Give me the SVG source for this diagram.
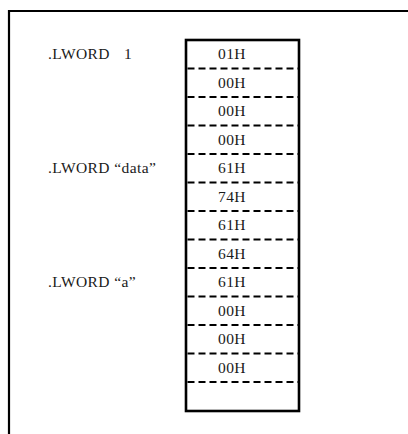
<svg xmlns="http://www.w3.org/2000/svg" width="408" height="434" viewBox="0 0 408 434">
  <style>
    .frame { fill: none; stroke: #000; stroke-width: 2.2; }
    .box { fill: #fff; stroke: #000; stroke-width: 2.6; }
    .sep { stroke: #000; stroke-width: 2.2; stroke-dasharray: 7 4; }
    text { font-family: "Liberation Serif", "DejaVu Serif", serif; font-size: 15.5px; letter-spacing: 0.4px; fill: #1a1a1a; }
    .val { text-anchor: middle; }
  </style>

  <!-- outer frame (continues past the right and bottom edges) -->
  <path class="frame" d="M9 434 V11 H408"/>

  <!-- memory column -->
  <g id="memory">
    <rect class="box" x="186" y="40" width="113" height="371"/>
    <g id="separators">
      <line class="sep" x1="187.5" y1="68.5" x2="298" y2="68.5"/>
      <line class="sep" x1="187.5" y1="97" x2="298" y2="97"/>
      <line class="sep" x1="187.5" y1="125.5" x2="298" y2="125.5"/>
      <line class="sep" x1="187.5" y1="154" x2="298" y2="154"/>
      <line class="sep" x1="187.5" y1="182.5" x2="298" y2="182.5"/>
      <line class="sep" x1="187.5" y1="211" x2="298" y2="211"/>
      <line class="sep" x1="187.5" y1="239.5" x2="298" y2="239.5"/>
      <line class="sep" x1="187.5" y1="268" x2="298" y2="268"/>
      <line class="sep" x1="187.5" y1="296.5" x2="298" y2="296.5"/>
      <line class="sep" x1="187.5" y1="325" x2="298" y2="325"/>
      <line class="sep" x1="187.5" y1="353.5" x2="298" y2="353.5"/>
      <line class="sep" x1="187.5" y1="382" x2="298" y2="382"/>
    </g>
    <g id="bytes">
      <text class="val" x="232" y="59">01H</text>
      <text class="val" x="232" y="87.5">00H</text>
      <text class="val" x="232" y="116">00H</text>
      <text class="val" x="232" y="144.5">00H</text>
      <text class="val" x="232" y="173">61H</text>
      <text class="val" x="232" y="201.5">74H</text>
      <text class="val" x="232" y="230">61H</text>
      <text class="val" x="232" y="258.5">64H</text>
      <text class="val" x="232" y="287">61H</text>
      <text class="val" x="232" y="315.5">00H</text>
      <text class="val" x="232" y="344">00H</text>
      <text class="val" x="232" y="372.5">00H</text>
    </g>
  </g>

  <!-- directives -->
  <g id="lword-1">
    <text x="48" y="59">.LWORD<tspan x="124">1</tspan></text>
  </g>
  <g id="lword-data">
    <text x="48" y="173">.LWORD “data”</text>
  </g>
  <g id="lword-a">
    <text x="48" y="287">.LWORD “a”</text>
  </g>
</svg>
